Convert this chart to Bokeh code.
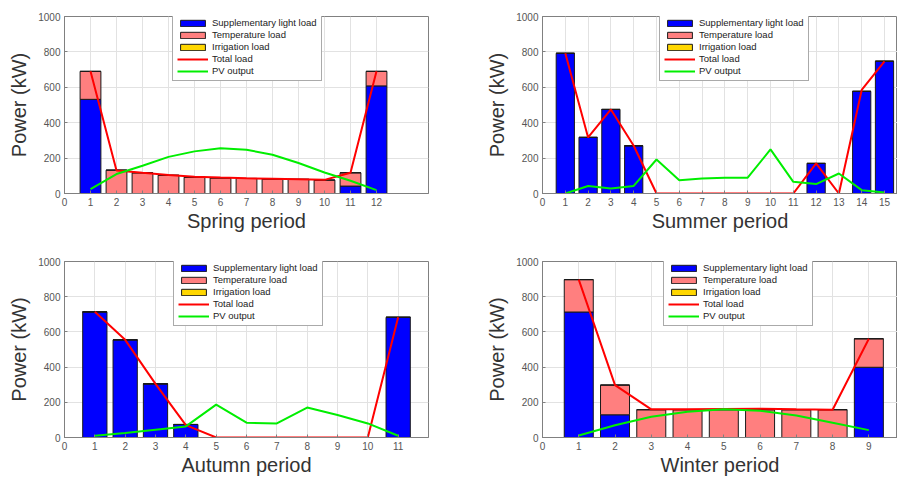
from bokeh.plotting import figure
from bokeh.layouts import gridplot
from bokeh.models import ColumnDataSource, FixedTicker, Range1d
from bokeh.embed import file_html
from bokeh.resources import INLINE

# ---------------- data ----------------
spring_periods = list(range(1, 13))
spring_light = [532, 0, 0, 0, 0, 0, 0, 0, 0, 0, 42, 608]
spring_temp = [158, 132, 117, 103, 92, 88, 85, 82, 80, 76, 75, 82]
spring_irrigation = [0] * 12
spring_total = [690, 130, 117, 105, 95, 90, 86, 83, 80, 77, 117, 690]
spring_pv = [25, 110, 157, 207, 238, 255, 247, 219, 172, 119, 72, 19]

summer_periods = list(range(1, 16))
summer_light = [792, 317, 475, 270, 0, 0, 0, 0, 0, 0, 0, 170, 0, 577, 747]
summer_temp = [0] * 15
summer_irrigation = [0] * 15
summer_total = [792, 317, 475, 270, 0, 0, 0, 0, 0, 0, 0, 170, 0, 585, 747]
summer_pv = [0, 42, 28, 43, 192, 75, 85, 89, 89, 249, 66, 53, 113, 19, 6]

autumn_periods = list(range(1, 12))
autumn_light = [714, 555, 305, 74, 0, 0, 0, 0, 0, 0, 683]
autumn_temp = [0] * 11
autumn_irrigation = [0] * 11
autumn_total = [714, 555, 305, 70, 0, 0, 0, 0, 0, 0, 683]
autumn_pv = [10, 25, 44, 63, 187, 84, 80, 170, 128, 80, 10]

winter_periods = list(range(1, 10))
winter_light = [713, 129, 0, 0, 0, 0, 0, 0, 399]
winter_temp = [184, 169, 158, 158, 158, 158, 158, 158, 162]
winter_irrigation = [0] * 9
winter_total = [897, 298, 160, 160, 162, 163, 160, 158, 561]
winter_pv = [11, 70, 118, 146, 160, 152, 125, 84, 42]

legend_labels = ["Supplementary light load", "Temperature load", "Irrigation load",
                 "Total load", "PV output"]
y_ticks = [0, 200, 400, 600, 800, 1000]

FONT = "Liberation Sans"


def make(name, periods, light, temp, irr, total, pv, xmax, width,
         bl, br, bt, bb, legend_x):
    height = 239
    p = figure(width=width, height=height, output_backend="svg", toolbar_location=None,
               x_range=Range1d(0, xmax), y_range=Range1d(0, 1000),
               min_border_left=bl, min_border_right=br, min_border_top=bt,
               min_border_bottom=bb, background_fill_color="white",
               border_fill_color="white")
    src = ColumnDataSource(dict(x=periods, light=light, temp=temp, irr=irr,
                                total=total, pv=pv))
    p.vbar_stack(["light", "temp", "irr"], x="x", width=0.8, source=src,
                 fill_color=["#0000ff", "#ff7f7f", "#ffd700"],
                 line_color="#1a1a1a", line_width=1,
                 legend_label=legend_labels[:3])
    p.line("x", "total", source=src, color="#ff0000", line_width=2,
           legend_label=legend_labels[3])
    p.line("x", "pv", source=src, color="#00ee00", line_width=2,
           legend_label=legend_labels[4])

    p.xaxis.ticker = FixedTicker(ticks=[0] + list(periods))
    p.yaxis.ticker = FixedTicker(ticks=y_ticks)
    for ax in (p.xaxis, p.yaxis):
        ax.major_label_text_font = FONT
        ax.major_label_text_font_size = "10px"
        ax.major_label_text_color = "#555555"
        ax.axis_label_text_font = FONT
        ax.axis_label_text_font_size = "20px"
        ax.axis_label_text_font_style = "normal"
        ax.axis_label_text_color = "#333333"
        ax.major_tick_in = 3
        ax.major_tick_out = 0
        ax.minor_tick_line_color = None
        ax.major_tick_line_color = "#808080"
        ax.axis_line_color = "#808080"
        ax.major_label_standoff = 4
    p.xaxis.axis_label = name
    p.yaxis.axis_label = "Power (kW)"
    p.xaxis.axis_label_standoff = 1
    p.yaxis.axis_label_standoff = 5

    p.xgrid.grid_line_color = "#e2e2e2"
    p.ygrid.grid_line_color = "#e2e2e2"
    p.outline_line_color = "#808080"
    p.outline_line_width = 1

    lg = p.legend[0]
    lg.label_text_font = FONT
    lg.label_text_font_size = "9.5px"
    lg.label_text_color = "#222222"
    lg.glyph_width = 31
    lg.glyph_height = 8
    lg.label_height = 10
    lg.label_standoff = 4
    lg.spacing = 1
    lg.padding = 4
    lg.margin = 0
    lg.border_line_color = "#555555"
    lg.border_line_width = 1
    lg.background_fill_alpha = 1
    frame_h = height - bt - bb
    lg.location = (legend_x, frame_h - 65)
    return p


p1 = make("Spring period", spring_periods, spring_light, spring_temp, spring_irrigation,
          spring_total, spring_pv, 14, 448, 64, 20, 16, 46, 108)
p2 = make("Summer period", summer_periods, summer_light, summer_temp, summer_irrigation,
          summer_total, summer_pv, 15.57, 449, 94, 0, 16, 46, 117)
p3 = make("Autumn period", autumn_periods, autumn_light, autumn_temp, autumn_irrigation,
          autumn_total, autumn_pv, 12, 448, 64, 20, 22, 41, 109)
p4 = make("Winter period", winter_periods, winter_light, winter_temp, winter_irrigation,
          winter_total, winter_pv, 9.79, 449, 94, 0, 22, 41, 121)

grid = gridplot([[p1, p2], [p3, p4]], toolbar_location=None)

open("out.html", "w").write(file_html(grid, INLINE))
